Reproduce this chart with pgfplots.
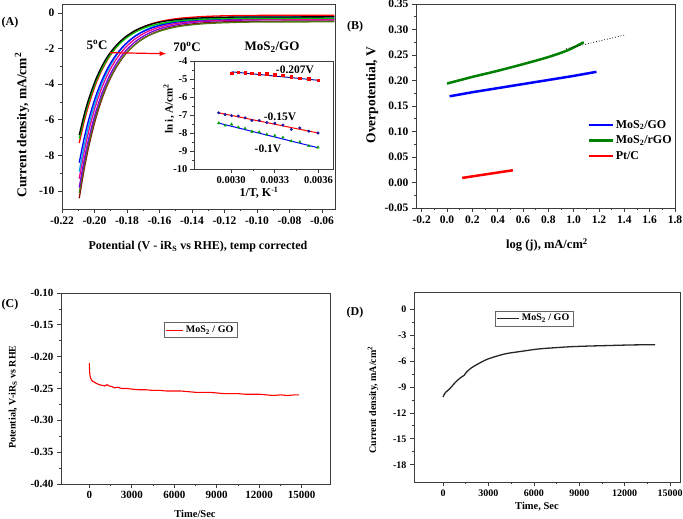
\documentclass[border=0pt]{standalone}
\usepackage{fontspec}
\setmainfont{Liberation Serif}
\usepackage{pgfplots}
\pgfplotsset{compat=1.18}
\usetikzlibrary{arrows.meta}
\newcommand{\fs}[1]{\fontsize{#1}{#1}\selectfont\bfseries}
\definecolor{cgreen}{RGB}{0,200,0}
\definecolor{dgreen}{RGB}{0,128,0}
\definecolor{cviolet}{RGB}{120,0,220}
\definecolor{colive}{RGB}{80,120,20}
\definecolor{cbrown}{RGB}{140,10,10}
\definecolor{cnavy}{RGB}{20,20,160}
\definecolor{frame}{RGB}{60,60,60}
\pgfplotsset{
  myaxis/.style={
    scale only axis, anchor=south west,
    tick pos=left, tick align=outside,
    major tick length=4pt, minor tick length=2.5pt,
    axis line style={line width=0.9pt, frame},
    every tick/.style={frame, line width=0.8pt},
    /pgf/number format/assume math mode=true,
    /pgf/number format/1000 sep={},
    scaled ticks=false,
  }
}
\begin{document}
\begin{tikzpicture}
\useasboundingbox (0,0) rectangle (683pt,519pt);
% ---------------- Panel A ----------------
\begin{axis}[myaxis, at={(62pt,310pt)}, width=273pt, height=205pt,
  xmin=-0.22, xmax=-0.052, ymin=-11, ymax=0.5,
  xtick={-0.22,-0.2,-0.18,-0.16,-0.14,-0.12,-0.1,-0.08,-0.06},
  ytick={-10,-8,-6,-4,-2,0},
  minor x tick num=1, minor y tick num=1,
  xticklabel style={/pgf/number format/.cd, fixed, fixed zerofill, precision=2},
  ticklabel style={font=\fs{11.5}}]
\addplot[cbrown, line width=1.3pt, smooth] coordinates {(-0.2094,-10.40)(-0.2064,-8.79)(-0.2034,-7.44)(-0.1994,-5.98)(-0.1954,-4.82)(-0.1914,-3.90)(-0.1874,-3.18)(-0.1834,-2.61)(-0.1794,-2.15)(-0.1744,-1.72)(-0.1694,-1.40)(-0.1634,-1.12)(-0.1564,-0.89)(-0.1474,-0.71)(-0.1344,-0.57)(-0.1194,-0.50)(-0.0994,-0.47)(-0.0524,-0.45)};
\addplot[colive, line width=1.3pt, smooth] coordinates {(-0.2094,-10.10)(-0.2064,-8.55)(-0.2034,-7.25)(-0.1994,-5.83)(-0.1954,-4.71)(-0.1914,-3.83)(-0.1874,-3.13)(-0.1834,-2.58)(-0.1794,-2.14)(-0.1744,-1.73)(-0.1694,-1.41)(-0.1634,-1.14)(-0.1564,-0.93)(-0.1474,-0.75)(-0.1344,-0.62)(-0.1194,-0.55)(-0.0994,-0.51)(-0.0524,-0.50)};
\addplot[cviolet, line width=1.3pt, smooth] coordinates {(-0.2094,-9.80)(-0.2064,-8.28)(-0.2034,-7.00)(-0.1994,-5.61)(-0.1954,-4.51)(-0.1914,-3.65)(-0.1874,-2.96)(-0.1834,-2.42)(-0.1794,-1.99)(-0.1744,-1.58)(-0.1694,-1.28)(-0.1634,-1.01)(-0.1564,-0.80)(-0.1474,-0.63)(-0.1344,-0.49)(-0.1194,-0.43)(-0.0994,-0.39)(-0.0524,-0.38)};
\addplot[magenta, line width=1.3pt, smooth] coordinates {(-0.2094,-9.30)(-0.2064,-7.81)(-0.2034,-6.57)(-0.1994,-5.23)(-0.1954,-4.18)(-0.1914,-3.36)(-0.1874,-2.71)(-0.1834,-2.20)(-0.1794,-1.80)(-0.1744,-1.42)(-0.1694,-1.14)(-0.1634,-0.90)(-0.1564,-0.71)(-0.1474,-0.56)(-0.1344,-0.45)(-0.1194,-0.39)(-0.0994,-0.36)(-0.0524,-0.35)};
\addplot[cyan, line width=1.3pt, smooth] coordinates {(-0.2094,-8.90)(-0.2064,-7.46)(-0.2034,-6.25)(-0.1994,-4.96)(-0.1954,-3.94)(-0.1914,-3.14)(-0.1874,-2.51)(-0.1834,-2.02)(-0.1794,-1.63)(-0.1744,-1.26)(-0.1694,-0.99)(-0.1634,-0.76)(-0.1564,-0.57)(-0.1474,-0.42)(-0.1344,-0.31)(-0.1194,-0.26)(-0.0994,-0.23)(-0.0524,-0.22)};
\addplot[blue, line width=1.3pt, smooth] coordinates {(-0.2094,-8.40)(-0.2064,-7.05)(-0.2034,-5.93)(-0.1994,-4.72)(-0.1954,-3.77)(-0.1914,-3.02)(-0.1874,-2.44)(-0.1834,-1.98)(-0.1794,-1.62)(-0.1744,-1.27)(-0.1694,-1.02)(-0.1634,-0.80)(-0.1564,-0.63)(-0.1474,-0.49)(-0.1344,-0.39)(-0.1194,-0.34)(-0.0994,-0.31)(-0.0524,-0.30)};
\addplot[red, line width=1.3pt, smooth] coordinates {(-0.2094,-7.30)(-0.2064,-6.11)(-0.2034,-5.12)(-0.1994,-4.04)(-0.1954,-3.20)(-0.1914,-2.54)(-0.1874,-2.02)(-0.1834,-1.61)(-0.1794,-1.29)(-0.1744,-0.99)(-0.1694,-0.77)(-0.1634,-0.57)(-0.1564,-0.42)(-0.1474,-0.30)(-0.1344,-0.21)(-0.1194,-0.16)(-0.0994,-0.14)(-0.0524,-0.13)};
\addplot[cgreen, line width=1.3pt, smooth] coordinates {(-0.2094,-7.05)(-0.2064,-5.90)(-0.2034,-4.94)(-0.1994,-3.91)(-0.1954,-3.11)(-0.1914,-2.49)(-0.1874,-2.01)(-0.1834,-1.63)(-0.1794,-1.34)(-0.1744,-1.06)(-0.1694,-0.85)(-0.1634,-0.68)(-0.1564,-0.55)(-0.1474,-0.44)(-0.1344,-0.36)(-0.1194,-0.32)(-0.0994,-0.31)(-0.0524,-0.30)};
\addplot[black, line width=1.3pt, smooth] coordinates {(-0.2094,-6.85)(-0.2064,-5.72)(-0.2034,-4.78)(-0.1994,-3.77)(-0.1954,-2.98)(-0.1914,-2.37)(-0.1874,-1.90)(-0.1834,-1.53)(-0.1794,-1.24)(-0.1744,-0.96)(-0.1694,-0.76)(-0.1634,-0.59)(-0.1564,-0.46)(-0.1474,-0.36)(-0.1344,-0.28)(-0.1194,-0.24)(-0.0994,-0.23)(-0.0524,-0.22)};
\draw[red, line width=1.2pt, -{Latex[length=7pt,width=5pt]}] (axis cs:-0.1906,-2.23) -- (axis cs:-0.1556,-2.29);
\end{axis}
% ---------------- Inset ----------------
\begin{axis}[myaxis, at={(194pt,350pt)}, width=139pt, height=108pt,
  xmin=0.002745, xmax=0.0037, ymin=-10, ymax=-4,
  xtick={0.003,0.0033,0.0036}, ytick={-10,-9,-8,-7,-6,-5,-4},
  minor x tick num=1, minor y tick num=1,
  xticklabel style={/pgf/number format/.cd, fixed, fixed zerofill, precision=4},
  yticklabel style={xshift=1pt},
  ticklabel style={font=\fs{10.5}},
  axis background/.style={fill=white}]
\addplot[cnavy, line width=1pt] coordinates {(0.003003,-4.60)(0.003597,-5.07)};
\addplot[red, line width=1pt] coordinates {(0.002915,-6.88)(0.003597,-8.00)};
\addplot[blue, line width=1pt] coordinates {(0.002915,-7.45)(0.003597,-8.82)};
\addplot[only marks, mark=square*, red, mark size=1.3pt] coordinates {(0.003003,-4.68)(0.003049,-4.62)(0.003096,-4.64)(0.003143,-4.68)(0.003193,-4.70)(0.003245,-4.72)(0.003300,-4.75)(0.003356,-4.80)(0.003413,-4.86)(0.003472,-4.95)(0.003534,-5.00)(0.003597,-5.07)};
\addplot[only marks, mark=*, cnavy, mark size=1.3pt] coordinates {(0.002915,-6.88)(0.002959,-6.98)(0.003003,-7.04)(0.003049,-7.06)(0.003096,-7.16)(0.003143,-7.30)(0.003193,-7.30)(0.003245,-7.42)(0.003300,-7.46)(0.003356,-7.56)(0.003413,-7.80)(0.003472,-7.72)(0.003534,-7.90)(0.003597,-8.00)};
\addplot[only marks, mark=triangle*, cgreen!80!black, mark size=1.5pt] coordinates {(0.002915,-7.45)(0.002959,-7.58)(0.003003,-7.52)(0.003049,-7.68)(0.003096,-7.75)(0.003143,-7.92)(0.003193,-7.95)(0.003245,-8.08)(0.003300,-8.15)(0.003356,-8.25)(0.003413,-8.45)(0.003472,-8.50)(0.003534,-8.72)(0.003597,-8.80)};
\end{axis}
% ---------------- Panel B ----------------
\begin{axis}[myaxis, at={(416pt,311pt)}, width=259pt, height=204pt,
  xmin=-0.245, xmax=1.8, ymin=-0.05, ymax=0.35,
  xtick={-0.2,0,0.2,0.4,0.6,0.8,1.0,1.2,1.4,1.6,1.8},
  ytick={-0.05,0,0.05,0.1,0.15,0.2,0.25,0.3,0.35},
  minor x tick num=1, minor y tick num=1,
  xticklabel style={/pgf/number format/.cd, fixed, fixed zerofill, precision=1},
  yticklabel style={/pgf/number format/.cd, fixed, fixed zerofill, precision=2},
  ticklabel style={font=\fs{11.5}},
  legend style={at={(0.649,0.451)}, anchor=north west, draw=none, fill=none, font=\fs{12}, row sep=2pt},
  legend cell align=left,
  legend image code/.code={\draw[#1, line width=2.5pt] (0pt,0pt) -- (24pt,0pt);}]
\addplot[blue, line width=2.5pt] coordinates {(0.02,0.169)(0.2,0.177)(0.4,0.185)(0.6,0.193)(0.8,0.201)(1.0,0.209)(1.18,0.217)};
\addplot[dgreen, line width=2.5pt, smooth] coordinates {(0,0.194)(0.2,0.207)(0.4,0.219)(0.6,0.232)(0.8,0.246)(0.95,0.259)(1.08,0.275)};
\addplot[red, line width=2.5pt] coordinates {(0.12,0.009)(0.52,0.024)};
\addplot[black, dotted, line width=0.8pt, forget plot] coordinates {(0.94,0.262)(1.40,0.289)};
\legend{MoS\textsubscript{2}/GO, MoS\textsubscript{2}/rGO, Pt/C}
\end{axis}
% ---------------- Panel C ----------------
\begin{axis}[myaxis, at={(61pt,35pt)}, width=269pt, height=191pt,
  xmin=-2000, xmax=17000, ymin=-0.40, ymax=-0.10,
  xtick={0,3000,6000,9000,12000,15000},
  ytick={-0.4,-0.35,-0.3,-0.25,-0.2,-0.15,-0.1},
  minor x tick num=1, minor y tick num=1,
  yticklabel style={/pgf/number format/.cd, fixed, fixed zerofill, precision=2},
  ticklabel style={font=\fs{11}},
  legend style={at={(0.519,0.806)}, anchor=center, draw=black!60, fill=white, font=\fs{10}, inner sep=1.5pt},
  legend image code/.code={\draw[#1] (0pt,0pt) -- (17pt,0pt);}]
\addplot[red, line width=1.1pt] coordinates {(0,-0.210)(10,-0.218)(30,-0.226)(60,-0.231)(100,-0.234)(200,-0.238)(350,-0.240)(500,-0.242)(700,-0.244)(900,-0.245)(1100,-0.246)(1250,-0.244)(1400,-0.246)(1600,-0.247)(1800,-0.249)(2000,-0.248)(2300,-0.250)(2700,-0.250)(3000,-0.251)(3500,-0.252)(4000,-0.252)(4500,-0.253)(5000,-0.253)(5500,-0.254)(6000,-0.254)(6500,-0.254)(7000,-0.255)(7500,-0.256)(8000,-0.256)(8500,-0.256)(9000,-0.257)(9500,-0.258)(10000,-0.258)(10500,-0.258)(11000,-0.259)(11500,-0.259)(12000,-0.259)(12500,-0.260)(13000,-0.261)(13500,-0.260)(14000,-0.261)(14500,-0.260)(14800,-0.260)};
\legend{MoS\textsubscript{2} / GO}
\end{axis}
% ---------------- Panel D ----------------
\begin{axis}[myaxis, at={(414pt,37pt)}, width=266pt, height=190pt,
  xmin=-1920, xmax=15650, ymin=-20, ymax=2,
  xtick={0,3000,6000,9000,12000,15000},
  ytick={-18,-15,-12,-9,-6,-3,0},
  minor x tick num=1, minor y tick num=1,
  ticklabel style={font=\fs{10}},
  legend style={at={(0.451,0.861)}, anchor=center, draw=black!60, fill=white, font=\fs{10}, inner sep=1.5pt},
  legend image code/.code={\draw[#1] (0pt,0pt) -- (22pt,0pt);}]
\addplot[black!85, line width=1.3pt, smooth] coordinates {(0,-10.15)(150,-9.65)(441,-9.20)(772,-8.54)(993,-8.16)(1213,-7.85)(1390,-7.66)(1544,-7.28)(1875,-6.78)(2316,-6.32)(2978,-5.75)(4081,-5.17)(5184,-4.87)(6287,-4.60)(7400,-4.45)(8493,-4.33)(9600,-4.26)(10699,-4.21)(12200,-4.14)(13676,-4.10)(14000,-4.10)};
\legend{MoS\textsubscript{2} / GO}
\end{axis}
% ---------------- Labels ----------------
\node[font=\fs{12}] at (10pt,496pt) {(A)};
\node[font=\fs{12}] at (355pt,492pt) {(B)};
\node[font=\fs{12}] at (10pt,214pt) {(C)};
\node[font=\fs{12}] at (355pt,206pt) {(D)};
\node[font=\fs{13}] at (97pt,474pt) {5\textsuperscript{o}C};
\node[font=\fs{13}] at (187pt,472pt) {70\textsuperscript{o}C};
\node[font=\fs{13}] at (272pt,472pt) {MoS\textsubscript{2}/GO};
\node[font=\fs{11.5}] at (295pt,449pt) {-0.207V};
\node[font=\fs{11.5}] at (280pt,402pt) {-0.15V};
\node[font=\fs{11.5}] at (268pt,370pt) {-0.1V};
\node[font=\fs{12}] at (259pt,326pt) {1/T, K\textsuperscript{-1}};
\node[font=\fs{11}, rotate=90] at (169pt,410pt) {ln i, A/cm\textsuperscript{2}};
\node[font=\fs{13.5}, rotate=90] at (22pt,394pt) {Current density, mA/cm\textsuperscript{2}};
\node[font=\fs{12}] at (198pt,272pt) {Potential (V - iR\textsubscript{S} vs RHE), temp corrected};
\node[font=\fs{13.5}, rotate=90] at (372pt,424pt) {Overpotential, V};
\node[font=\fs{12.5}] at (547pt,274pt) {log (j), mA/cm\textsuperscript{2}};
\node[font=\fs{10}, rotate=90] at (13pt,122pt) {Potential, V-iR\textsubscript{S} vs RHE};
\node[font=\fs{10.5}] at (195pt,5pt) {Time/Sec};
\node[font=\fs{10}, rotate=90] at (373pt,119pt) {Current density, mA/cm\textsuperscript{2}};
\node[font=\fs{10.5}] at (537pt,12pt) {Time, Sec};
\end{tikzpicture}
\end{document}
